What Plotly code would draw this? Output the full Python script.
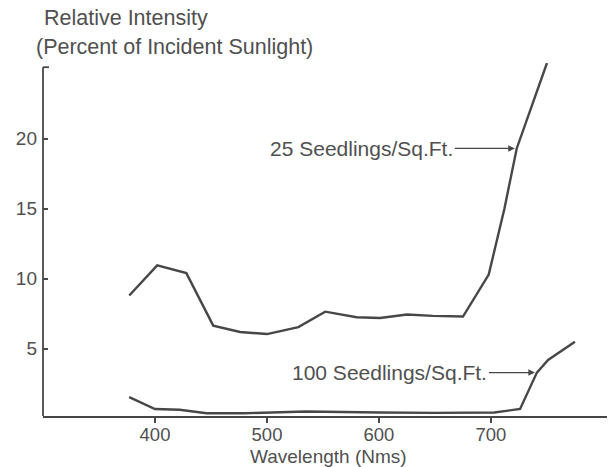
import plotly.graph_objects as go

# Data
wl_25 = [377, 402, 428, 452, 476, 500, 528, 552, 580, 601, 625, 648, 675, 698, 712, 723, 750]
int_25 = [8.8, 10.95, 10.4, 6.65, 6.2, 6.05, 6.55, 7.65, 7.25, 7.2, 7.45, 7.35, 7.3, 10.3, 15.0, 19.3, 25.4]

wl_100 = [377, 400, 422, 446, 480, 535, 601, 650, 703, 726, 741, 751, 775]
int_100 = [1.55, 0.7, 0.65, 0.4, 0.4, 0.52, 0.45, 0.42, 0.45, 0.7, 3.3, 4.2, 5.5]

x_ticks = [400, 500, 600, 700]
y_ticks = [5, 10, 15, 20]

label_25 = "25 Seedlings/Sq.Ft."
label_100 = "100 Seedlings/Sq.Ft."
x_title = "Wavelength (Nms)"
y_title_1 = "Relative Intensity"
y_title_2 = "(Percent of Incident Sunlight)"

ink = "#474747"
font = "Liberation Sans, Arial, sans-serif"

fig = go.Figure()
fig.add_trace(go.Scatter(x=wl_25, y=int_25, mode="lines",
                         line=dict(color=ink, width=2.4), showlegend=False))
fig.add_trace(go.Scatter(x=wl_100, y=int_100, mode="lines",
                         line=dict(color=ink, width=2.4), showlegend=False))

fig.update_layout(
    width=612, height=467,
    margin=dict(l=43, r=5, t=63, b=51),
    paper_bgcolor="white", plot_bgcolor="white",
    font=dict(family=font, size=19, color="#505050"),
    xaxis=dict(range=[300, 803.6], tickvals=x_ticks, ticks="outside", ticklen=5,
               tickcolor=ink, tickwidth=1.5, showline=True, linecolor=ink, linewidth=1.8,
               showgrid=False, zeroline=False, tickfont=dict(size=18.5),
               ticklabelstandoff=-4),
    yaxis=dict(range=[0.2, 25.4], tickvals=y_ticks, ticks="inside", ticklen=5,
               tickcolor=ink, tickwidth=1.5, showline=False, ticklabelstandoff=5,
               showgrid=False, zeroline=False, tickfont=dict(size=19)),
    shapes=[
        dict(type="line", xref="paper", yref="y", x0=0, x1=0, y0=0.2, y1=25.1,
             line=dict(color=ink, width=1.8)),
        dict(type="line", xref="paper", yref="y", x0=0, x1=6 / 564, y0=25.1, y1=25.1,
             line=dict(color=ink, width=1.8)),
    ],
    annotations=[
        dict(x=723, y=19.3, xref="x", yref="y", text=label_25, showarrow=True,
             ax=-155, ay=0, arrowhead=2, arrowsize=1, arrowwidth=1.3, arrowcolor=ink,
             font=dict(size=21), standoff=2),
        dict(x=741, y=3.3, xref="x", yref="y", text=label_100, showarrow=True,
             ax=-147, ay=0, arrowhead=2, arrowsize=1, arrowwidth=1.3, arrowcolor=ink,
             font=dict(size=21), standoff=2),
        dict(x=328, y=456.5, xref="paper", yref="paper", text=x_title, showarrow=False,
             font=dict(size=19)),
        dict(x=42, y=18, xref="paper", yref="paper", text=y_title_1, showarrow=False,
             xanchor="left", font=dict(size=21.5)),
        dict(x=34, y=47, xref="paper", yref="paper", text=y_title_2, showarrow=False,
             xanchor="left", font=dict(size=21.5)),
    ],
)

# convert pixel-positioned annotations to paper coordinates
W, H = 612, 467
l, r, t, b = 43, 5, 63, 51
pw, ph = W - l - r, H - t - b
for a in fig.layout.annotations:
    if a.xref == "paper":
        a.x = (a.x - l) / pw
        a.y = (H - b - a.y) / ph
        a.yanchor = "middle"

fig.write_html("out.html")
